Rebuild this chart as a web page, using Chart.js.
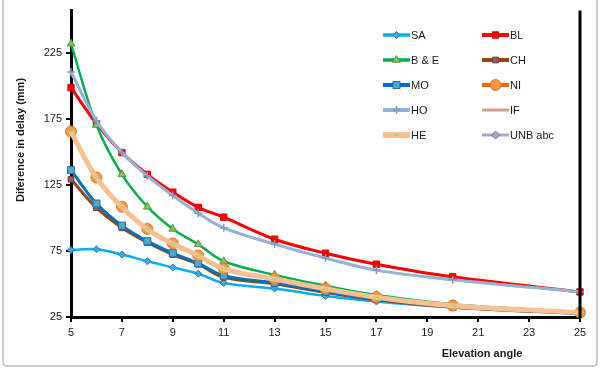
<!DOCTYPE html>
<html><head><meta charset="utf-8">
<script src="https://cdn.jsdelivr.net/npm/chart.js@4/dist/chart.umd.min.js"></script>
<style>html,body{margin:0;padding:0;background:#fff}#wrap{width:600px;height:369px;position:relative}</style>
</head><body><div id="wrap"><canvas id="c" width="600" height="369"></canvas></div>
<script>
const elevation = [5, 6, 7, 8, 9, 10, 11, 13, 15, 17, 20, 25];
const xTicks = [5, 7, 9, 11, 13, 15, 17, 19, 21, 23, 25];
const yTicks = [25, 75, 125, 175, 225];
const SA  = [75.7, 76.3, 72.3, 67.2, 62.5, 57.8, 50.7, 46.5, 40.9, 36.7, 32.2, 27.4];
const BL  = [198.7, 171.4, 149.5, 133.0, 119.5, 108.0, 100.6, 83.9, 73.3, 65.0, 55.4, 44.0];
const BE  = [231.9, 170.4, 133.0, 108.5, 91.7, 80.0, 67.2, 56.9, 48.7, 41.6, 34.7, 28.5];
const CH  = [129.3, 107.7, 92.5, 81.4, 72.3, 65.0, 55.0, 50.2, 43.6, 38.0, 32.4, 27.6];
const MO  = [136.2, 110.9, 94.2, 82.4, 73.3, 65.6, 56.3, 50.9, 44.2, 38.6, 32.8, 27.9];
const NI  = [165.5, 130.6, 108.5, 91.7, 80.7, 71.6, 61.7, 53.9, 46.5, 40.1, 33.7, 28.5];
const HO  = [210.5, 173.6, 149.5, 131.8, 117.0, 103.5, 92.5, 80.2, 69.6, 60.5, 53.2, 44.0];
const IF  = [198.5, 171.2, 149.4, 132.8, 119.3, 107.8, 100.4, 83.7, 73.1, 64.8, 55.2, 43.9];
const HE  = [165.2, 130.4, 108.3, 91.5, 80.5, 71.4, 61.5, 53.7, 46.3, 40.0, 33.6, 28.4];
const UNB = [210.3, 173.4, 149.4, 131.6, 116.8, 103.3, 92.3, 80.0, 69.4, 60.3, 53.0, 43.9];

const pts = arr => arr.map((v, i) => ({x: elevation[i], y: v}));

function ds(label, data, color, width, style, radius, fill, border, order) {
  return {
    label, data: pts(data), borderColor: color, borderWidth: width,
    pointStyle: style, pointRadius: radius, pointBackgroundColor: fill,
    pointBorderColor: border, pointBorderWidth: 1, tension: 0.35,
    fill: false, order, clip: false
  };
}

const datasets = [
  ds('SA', SA, '#00B0F0', 2.5, 'rectRot', 3.5, '#3FA9E0', '#1F7FC0', 10),
  ds('BL', BL, '#FF0000', 3, 'rect', 4.5, '#FF0000', '#E00000', 9),
  ds('B & E', BE, '#00B050', 2.5, 'triangle', 4.5, '#9BBB59', '#4E9A3A', 8),
  ds('CH', CH, '#984807', 3, 'rect', 4, '#8A5A8A', '#7A3A10', 7),
  ds('MO', MO, '#0070C0', 3, 'rect', 5, '#4BACC6', '#1F6FB0', 6),
  ds('NI', NI, '#E46C0A', 3, 'circle', 5.5, '#F79646', '#E07A2A', 5),
  ds('HO', HO, '#95B3D7', 3, 'cross', 4, '#95B3D7', '#7F9AC0', 4),
  ds('IF', IF, '#D99694', 2, 'line', 0, '#D99694', '#D99694', 11),
  ds('HE', HE, '#FAC090', 5, 'line', 3, '#9BBB59', '#B5CF80', 3),
  ds('UNB abc', UNB, '#B3A2C7', 2, 'rectRot', 0, '#B3A2C7', '#8064A2', 12)
];
datasets[7].pointBorderWidth = 0;
datasets[8].pointBorderWidth = 2;
datasets[6].pointBorderWidth = 1.5;

const legendItems = [
  {i:0, col:0, row:0}, {i:1, col:1, row:0},
  {i:2, col:0, row:1}, {i:3, col:1, row:1},
  {i:4, col:0, row:2}, {i:5, col:1, row:2},
  {i:6, col:0, row:3}, {i:7, col:1, row:3},
  {i:8, col:0, row:4}, {i:9, col:1, row:4}
];
const legendMarker = {7: {style:false, r:0}, 9: {style:'rectRot', r:4}};

const decor = {
  id: 'decor',
  beforeDraw(chart) {
    const ctx = chart.ctx;
    ctx.save();
    ctx.fillStyle = '#fff';
    ctx.fillRect(0, 0, chart.width, chart.height);
    ctx.strokeStyle = '#BFBFBF';
    ctx.lineWidth = 1.5;
    ctx.beginPath();
    ctx.moveTo(3, 0); ctx.lineTo(3, 362);
    ctx.quadraticCurveTo(3, 366, 7, 366);
    ctx.lineTo(593, 366);
    ctx.quadraticCurveTo(597, 366, 597, 362);
    ctx.lineTo(597, 0);
    ctx.stroke();
    ctx.restore();
  },
  afterDraw(chart) {
    const {ctx, chartArea: a} = chart;
    ctx.save();
    ctx.strokeStyle = '#000';
    ctx.lineWidth = 3;
    ctx.beginPath();
    ctx.moveTo(a.right, a.top); ctx.lineTo(a.right, a.bottom + 1.5);
    ctx.stroke();

    ctx.fillStyle = '#1a1a1a';
    ctx.font = 'bold 11px "Liberation Sans", Arial, sans-serif';
    ctx.textAlign = 'center';
    ctx.textBaseline = 'middle';
    ctx.fillText('Elevation angle', 482, 354);
    ctx.save();
    ctx.translate(21, 140);
    ctx.rotate(-Math.PI / 2);
    ctx.fillText('Diference in delay (mm)', 0, 0);
    ctx.restore();

    ctx.font = '11px "Liberation Sans", Arial, sans-serif';
    ctx.textAlign = 'left';
    const colX = [383, 482];
    legendItems.forEach(it => {
      const d = chart.data.datasets[it.i];
      const x0 = colX[it.col], y = 35 + it.row * 25;
      ctx.strokeStyle = d.borderColor;
      ctx.lineWidth = d.borderWidth + 1;
      ctx.lineCap = 'butt';
      ctx.beginPath(); ctx.moveTo(x0, y); ctx.lineTo(x0 + 27, y); ctx.stroke();
      const lm = legendMarker[it.i];
      const style = lm ? lm.style : d.pointStyle;
      const r = lm ? lm.r : d.pointRadius;
      if (style && r > 0) {
        ctx.fillStyle = d.pointBackgroundColor;
        ctx.strokeStyle = d.pointBorderColor;
        ctx.lineWidth = d.pointBorderWidth || 1;
        Chart.helpers.drawPoint(ctx, {pointStyle: style, radius: r, rotation: 0, borderWidth: d.pointBorderWidth || 1}, x0 + 13.5, y);
      }
      ctx.fillStyle = '#1a1a1a';
      ctx.fillText(d.label, x0 + 28, y + 1);
    });
    ctx.restore();
  }
};

new Chart(document.getElementById('c'), {
  type: 'line',
  data: {datasets},
  plugins: [decor],
  options: {
    responsive: false,
    animation: false,
    devicePixelRatio: 1,
    layout: {padding: {left: 0, right: 20, top: 0, bottom: 0}},
    plugins: {legend: {display: false}, tooltip: {enabled: false}},
    scales: {
      x: {
        type: 'linear', min: 5, max: 25,
        afterBuildTicks: s => { s.ticks = xTicks.map(v => ({value: v})); },
        afterFit: s => { s.height = 52; },
        border: {color: '#000', width: 3},
        grid: {drawOnChartArea: false, color: '#000', lineWidth: 2, tickLength: 5},
        ticks: {color: '#1a1a1a', font: {size: 11, family: '"Liberation Sans", Arial, sans-serif'}, padding: 4, maxRotation: 0}
      },
      y: {
        type: 'linear', min: 25, max: 257,
        afterBuildTicks: s => { s.ticks = yTicks.map(v => ({value: v})); },
        afterFit: s => { s.width = 71; },
        border: {color: '#000', width: 3},
        grid: {drawOnChartArea: false, color: '#000', lineWidth: 2, tickLength: 5},
        ticks: {color: '#1a1a1a', font: {size: 11, family: '"Liberation Sans", Arial, sans-serif'}, padding: 4}
      }
    }
  }
});
</script>
</body></html>
